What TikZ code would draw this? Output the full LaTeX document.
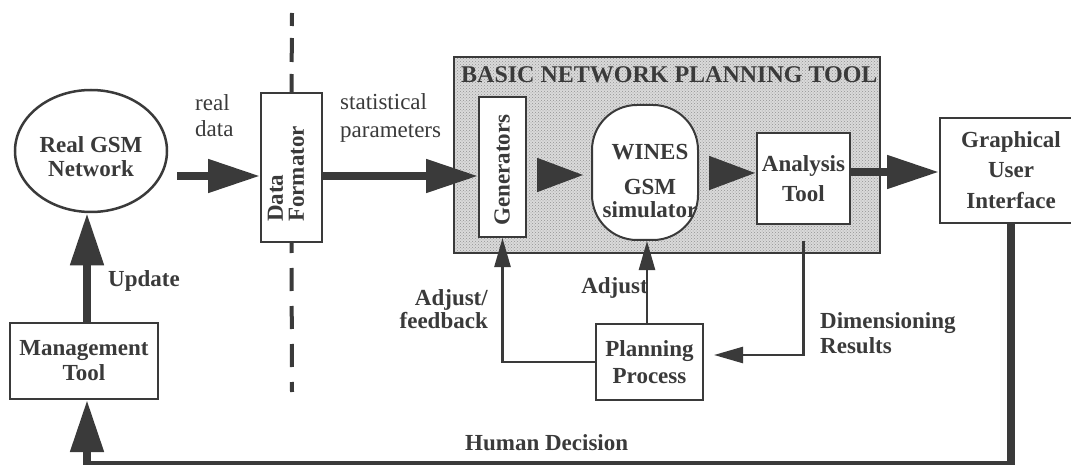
\documentclass[tikz,border=0pt]{standalone}
\usepackage{fontspec}
\setmainfont{Liberation Serif}
\usetikzlibrary{arrows.meta,shapes.geometric,patterns,calc}
\definecolor{ink}{RGB}{58,58,58}
\definecolor{shade}{RGB}{218,218,218}
\begin{document}
\begin{tikzpicture}[x=1pt,y=-1pt,
  every node/.style={text=ink, font=\fontsize{23}{25}\selectfont},
  bold/.style={font=\fontsize{23}{25}\selectfont\bfseries},
  box/.style={draw=ink, line width=2pt, fill=white, inner sep=0pt},
  bigarrow/.style={draw=ink, line width=8pt, line join=miter, -{Triangle[length=52pt,width=32pt]}},
  headonly/.style={draw=ink, line width=8pt, -{Triangle[length=47pt,width=32pt]}},
  thinarrow/.style={draw=ink, line width=2.5pt, -{Triangle[length=29pt,width=16pt]}},
  sepline/.style={draw=ink, line width=4pt}
]
\useasboundingbox (0,0) rectangle (1071,465);

% helper coordinates
\coordinate (ux) at (87,0);
\coordinate (bot) at (0,465);
\coordinate (a1) at (177,176);
\coordinate (a2) at (0,175);
\coordinate (a3) at (0,173);
\coordinate (a4) at (0,172);
\coordinate (ax) at (647,0);
\coordinate (d1) at (292,13);
\coordinate (d2) at (292,392);

% planning tool frame
\node[draw=ink, line width=2pt, preaction={fill=shade}, pattern=crosshatch dots, pattern color=ink!55,
      minimum width=426pt, minimum height=196pt, inner sep=0pt] (bnpt) at (666.5,155.5) {};
\node[anchor=base west, inner sep=0pt, font=\fontsize{24}{25}\selectfont\bfseries] (title) at (461,83) {BASIC NETWORK PLANNING TOOL};

% data formator and separator
\node[box, minimum width=61pt, minimum height=149pt] (df) at (291.5,167.5) {};
\draw[sepline, dash pattern=on 24pt off 12pt, dash phase=6pt] (df.north) -- (d1);
\draw[sepline, dash pattern=on 23pt off 15pt, dash phase=13pt] (df.south) -- (d2);
\node[bold, rotate=90, align=left, anchor=west, inner sep=0pt] (dftext) at (286,222) {Data\\[-4pt]Formator};

% nodes
\node[box, ellipse, line width=2.5pt, minimum width=152pt, minimum height=122pt] (gsm) at (91,151) {};
\node[bold, align=center] (gsmtext) at (91,157) {Real GSM\\[-1pt]Network};

\node[box, minimum width=47pt, minimum height=140pt] (gen) at (502.5,167) {};
\node[bold, rotate=90, inner sep=0pt] (gentext) at (502,170) {Generators};

\node[box, rounded corners=45pt, minimum width=106pt, minimum height=135pt] (wines) at (645,172.5) {};
\node[bold, align=center] (winestext) at (650,181) {WINES\\[10pt]GSM\\[-2pt]simulator};

\node[box, bold, align=center, minimum width=93pt, minimum height=91pt] (an) at (803.5,178.5) {Analysis\\[5pt]Tool};
\node[box, bold, align=center, minimum width=142pt, minimum height=105pt] (gui) at (1011,170.5) {Graphical\\[5pt]User\\[6pt]Interface};
\node[box, bold, align=center, minimum width=148pt, minimum height=76pt] (mgmt) at (84,361) {Management\\Tool};
\node[box, bold, align=center, minimum width=107pt, minimum height=76pt] (pp) at (649.5,362) {Planning\\[2pt]Process};

% labels (base = baseline of the last line)
\node[anchor=base west, align=left, inner sep=0pt] (lreal) at (195,137) {real\\[1pt]data};
\node[anchor=base west, align=left, inner sep=0pt] (lstat) at (340,138) {statistical\\[3pt]parameters};
\node[bold, anchor=base west, inner sep=0pt] (lupd) at (108,286) {Update};
\node[bold, anchor=base east, align=right, inner sep=0pt] (lfb) at (488,328) {Adjust/\\[-2pt]feedback};
\node[bold, anchor=base east, inner sep=0pt] (ladj) at (648,293) {Adjust};
\node[bold, anchor=base west, align=left, inner sep=0pt] (ldim) at (820,353) {Dimensioning\\Results};
\node[bold, anchor=base west, inner sep=0pt] (lhum) at (465,450) {Human Decision};

% thick connectors
\draw[bigarrow] (a1) -- (a1 -| df.west);
\draw[bigarrow] (a1 -| df.east) -- (a1 -| gen.west);
\draw[headonly] ($(a2 -| gen.east)+(12,0)$) -- ($(a2 -| wines.west)+(-7,0)$);
\draw[headonly] ($(a3 -| wines.east)+(12,0)$) -- (a3 -| an.west);
\draw[bigarrow] (a4 -| an.east) -- (a4 -| gui.west);
\draw[bigarrow] (gui.south) |- (ux |- bot) -- (ux |- mgmt.south);
\draw[bigarrow] (ux |- mgmt.north) -- (ux |- gsm.south);

% thin connectors
\draw[thinarrow] (ax |- pp.north) -- (ax |- wines.south);
\draw[thinarrow] (pp.west) -| (gen.south);
\draw[thinarrow] ($(an.south)+(0,16)$) |- ($(pp.east)+(10,-7)$);
\end{tikzpicture}
\end{document}
